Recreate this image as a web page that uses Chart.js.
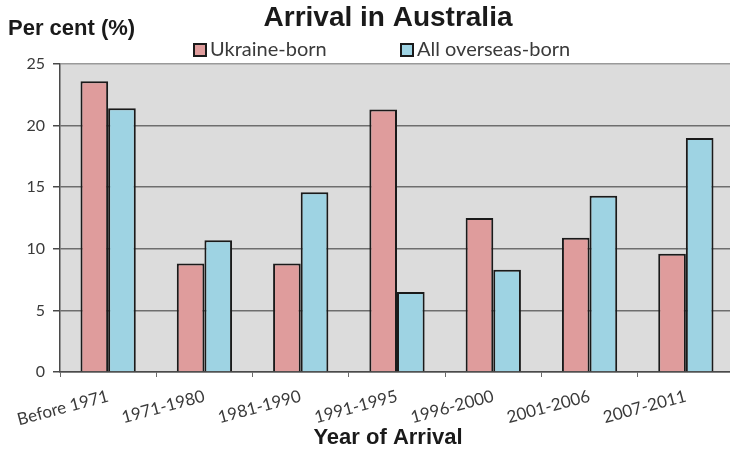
<!DOCTYPE html>
<html>
<head>
<meta charset="utf-8">
<script src="https://cdn.jsdelivr.net/npm/chart.js@4"></script>
<style>
  html, body { margin: 0; padding: 0; background: #fff; overflow: hidden; }
  #wrap { width: 740px; height: 453px; }
</style>
</head>
<body>
<div id="wrap"><canvas id="myChart" width="740" height="453"></canvas></div>
<script>
// 차트 데이터
const categories = ['Before 1971', '1971-1980', '1981-1990', '1991-1995', '1996-2000', '2001-2006', '2007-2011'];
const ukraineBorn = [23.6, 8.8, 8.8, 21.3, 12.5, 10.9, 9.6];
const overseasBorn = [21.4, 10.7, 14.6, 6.5, 8.3, 14.3, 19.0];
const seriesNames = ['Ukraine-born', 'All overseas-born'];
const yTicks = [0, 5, 10, 15, 20, 25];

const chartTitle = 'Arrival in Australia';
const yTitle = 'Per cent (%)';
const xTitle = 'Year of Arrival';

// 제목, 범례, 축 제목을 직접 그리는 플러그인
const headerPlugin = {
    id: 'header',
    beforeDraw(chart) {
        const { ctx, chartArea } = chart;
        ctx.save();
        ctx.fillStyle = '#dcdcdc';
        ctx.fillRect(chartArea.left, chartArea.top, chartArea.right - chartArea.left, chartArea.bottom - chartArea.top);
        ctx.restore();
    },
    afterDraw(chart) {
        const ctx = chart.ctx;
        ctx.save();
        ctx.fillStyle = '#1a1a1a';
        ctx.textBaseline = 'middle';

        ctx.font = 'bold 28px "Liberation Sans", Arial, sans-serif';
        ctx.textAlign = 'center';
        ctx.fillText(chartTitle, 388, 18);

        ctx.font = 'bold 22px "Liberation Sans", Arial, sans-serif';
        ctx.textAlign = 'left';
        ctx.fillText(yTitle, 8, 29);

        ctx.textAlign = 'center';
        ctx.fillText(xTitle, 388, 438);

        // 범례
        ctx.font = '20px Lato, "Open Sans", sans-serif';
        ctx.textAlign = 'left';
        const legendX = [194, 401];
        chart.data.datasets.forEach((ds, i) => {
            ctx.fillStyle = ds.backgroundColor;
            ctx.strokeStyle = '#1a1a1a';
            ctx.lineWidth = 2;
            ctx.fillRect(legendX[i], 44, 12, 12);
            ctx.strokeRect(legendX[i], 44, 12, 12);
            ctx.fillStyle = '#3a3a3a';
            ctx.fillText(ds.label, legendX[i] + 16, 50);
        });
        ctx.restore();
    }
};

const chartCanvas = document.getElementById('myChart');
const myChart = new Chart(chartCanvas, {
    type: 'bar',
    data: {
        labels: categories,
        datasets: [
            {
                label: seriesNames[0],
                data: ukraineBorn,
                backgroundColor: '#df9c9c',
                borderColor: '#1a1a1a',
                borderWidth: 2,
                categoryPercentage: 0.574,
                barPercentage: 1.0
            },
            {
                label: seriesNames[1],
                data: overseasBorn,
                backgroundColor: '#9ed3e3',
                borderColor: '#1a1a1a',
                borderWidth: 2,
                categoryPercentage: 0.574,
                barPercentage: 1.0
            }
        ]
    },
    options: {
        responsive: false,
        animation: false,
        layout: { padding: { top: 64, right: 6, left: 0, bottom: 0 } },
        plugins: {
            legend: { display: false },
            title: { display: false },
            tooltip: { enabled: false }
        },
        scales: {
            x: {
                afterFit: s => { s.height = 81; },
                grid: {
                    offset: true,
                    drawOnChartArea: false,
                    drawTicks: true,
                    tickLength: 5,
                    color: '#6a6a6a'
                },
                border: { color: '#4a4a4a', width: 1.5 },
                ticks: {
                    minRotation: 15,
                    maxRotation: 15,
                    padding: 9,
                    color: '#3a3a3a',
                    font: { family: 'Lato, "Open Sans", sans-serif', size: 17 }
                }
            },
            y: {
                min: 0,
                max: 25,
                afterFit: s => { s.width = 60; },
                afterBuildTicks: s => { s.ticks = yTicks.map(v => ({ value: v })); },
                grid: {
                    color: ctx => ctx.tick && ctx.tick.value === 25 ? '#9a9a9a' : '#6e6e6e',
                    lineWidth: 1.5,
                    tickLength: 7,
                    tickColor: '#4a4a4a'
                },
                border: { color: '#4a4a4a', width: 1.5 },
                ticks: {
                    padding: 8,
                    color: '#3a3a3a',
                    font: { family: 'Lato, "Open Sans", sans-serif', size: 16 }
                }
            }
        }
    },
    plugins: [headerPlugin]
});
</script>
</body>
</html>
